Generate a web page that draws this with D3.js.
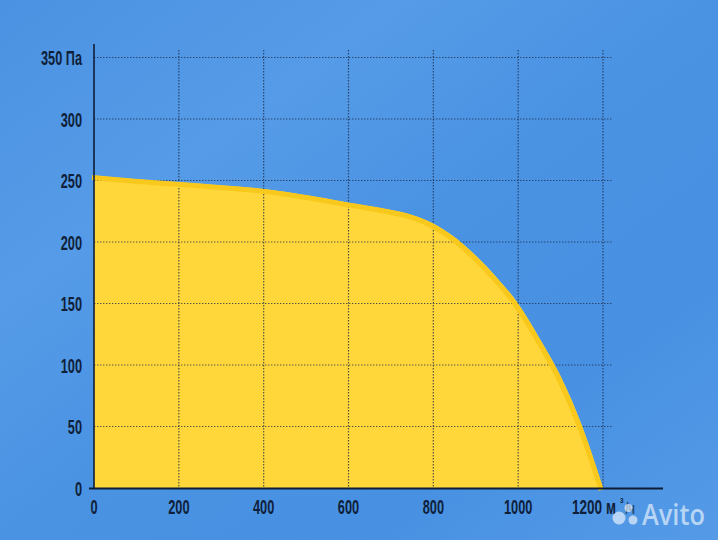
<!DOCTYPE html>
<html><head><meta charset="utf-8">
<script src="https://cdn.jsdelivr.net/npm/d3@7"></script>
<style>
html,body{margin:0;padding:0;overflow:hidden;}
svg{display:block;}
</style></head>
<body>
<svg id="chart" width="718" height="540"></svg>
<script>
// ---- data ----
const flow     = [0, 100, 200, 300, 400, 500, 600, 700, 750, 800, 850, 900, 950, 1000, 1050, 1100, 1150, 1200];
const pressure = [254, 251, 248.5, 246, 243, 238, 232, 226, 222, 215, 204, 189, 171, 150, 122, 91, 51, 0];
const xTicks = [0, 200, 400, 600, 800, 1000, 1200];
const yTicks = [0, 50, 100, 150, 200, 250, 300, 350];
const yUnit = "Па";
const xUnit = ["м", "3", "/ч"];

const svg = d3.select("#chart");
const W = 718, H = 540;

// background
const defs = svg.append("defs");
const bg = defs.append("linearGradient").attr("id","bg").attr("x1","0").attr("y1","0").attr("x2","1").attr("y2","1");
[["0%","#4b92e2"],["28%","#559be7"],["50%","#4a93e3"],["75%","#4891e2"],["100%","#549ae7"]]
  .forEach(([o,c])=>bg.append("stop").attr("offset",o).attr("stop-color",c));
svg.append("rect").attr("width",W).attr("height",H).attr("fill","url(#bg)");

const x = d3.scaleLinear().domain([0,1200]).range([94,603]);
const y = d3.scaleLinear().domain([0,350]).range([488,57.5]);

const data = flow.map((f,i)=>({f, p: pressure[i]}));

// area
const area = d3.area().x(d=>x(d.f)).y0(y(0)).y1(d=>y(d.p)).curve(d3.curveMonotoneX);
svg.append("path").datum(data).attr("d",area).attr("fill","#ffd73a");

// grid
const ink = "#1c2a48";
const grid = svg.append("g").attr("stroke",ink).attr("stroke-opacity",0.75)
  .attr("stroke-width",1.2).attr("stroke-dasharray","1.4 1.6");
grid.selectAll("line.v").data(xTicks.filter(d=>d>0)).join("line")
  .attr("x1",d=>x(d)).attr("x2",d=>x(d)).attr("y1",50).attr("y2",y(0));
grid.selectAll("line.h").data(yTicks.filter(d=>d>0)).join("line")
  .attr("y1",d=>y(d)).attr("y2",d=>y(d)).attr("x1",x(0)).attr("x2",613);

// curve stroke (just inside the fill edge)
const line = d3.line().x(d=>x(d.f)-2).y(d=>y(d.p)+2).curve(d3.curveMonotoneX);
svg.append("path").datum(data.slice(0,-1).concat([{f:1200.5,p:0}])).attr("d",line).attr("fill","none")
  .attr("stroke","#f9c81c").attr("stroke-width",5).attr("stroke-linejoin","round");

// axes lines
svg.append("line").attr("x1",x(0)).attr("x2",x(0)).attr("y1",44).attr("y2",489)
  .attr("stroke","#0f1d36").attr("stroke-width",1.6);
svg.append("line").attr("x1",89).attr("x2",663).attr("y1",488.5).attr("y2",488.5)
  .attr("stroke","#0f1d36").attr("stroke-width",2);

const fontFam = "'Liberation Sans Narrow','Liberation Sans','Roboto',sans-serif";
const labelColor = "#0f1f3a";
const digitW = 7.1;

// condensed label: place at (px,py), anchor, squeeze horizontally to width tw
function label(g, txt, px, py, anchor, tw, size, extra){
  const t = g.append("text").text(txt)
    .attr("font-family",fontFam).attr("font-weight","bold")
    .attr("font-size",size).attr("fill",labelColor).attr("text-anchor",anchor);
  if (extra) extra(t);
  const w = t.node().getComputedTextLength();
  const s = w > 0 ? tw / w : 1;
  t.attr("transform",`translate(${px},${py}) scale(${s},1)`);
  return t;
}

// y labels
const gy = svg.append("g");
yTicks.forEach(d=>{
  const txt = d===350 ? d+" "+yUnit : String(d);
  const tw = d===350 ? 41 : String(d).length*digitW;
  label(gy, txt, 82, y(d)+7.5, "end", tw, 21);
});

// x labels
const gx = svg.append("g");
xTicks.forEach(d=>{
  if (d===1200){
    label(gx, d+" "+xUnit[0], x(d)-31, y(0)+25.5, "start", 44, 21);
  } else {
    label(gx, String(d), x(d), y(0)+25.5, "middle", String(d).length*digitW, 21);
  }
});
// unit superscript and "/ч"
const ux = x(1200);
label(gx, xUnit[1], ux+17, y(0)+15, "start", 3.5, 8);
label(gx, xUnit[2], ux+22.5, y(0)+25.5, "start", 9.5, 16, t=>t.attr("fill-opacity",0.7));

// watermark
const wm = svg.append("g").attr("fill","#ffffff").attr("fill-opacity",0.6);
wm.append("circle").attr("cx",619).attr("cy",518).attr("r",6.5);
wm.append("circle").attr("cx",628.5).attr("cy",508).attr("r",4);
wm.append("circle").attr("cx",633).attr("cy",520).attr("r",4.5);
wm.append("text").attr("x",642).attr("y",525).text("Avito")
  .attr("font-family","'Open Sans','Noto Sans',sans-serif").attr("font-weight","600")
  .attr("font-size",28).attr("textLength",63).attr("lengthAdjust","spacingAndGlyphs");
</script>
</body></html>
